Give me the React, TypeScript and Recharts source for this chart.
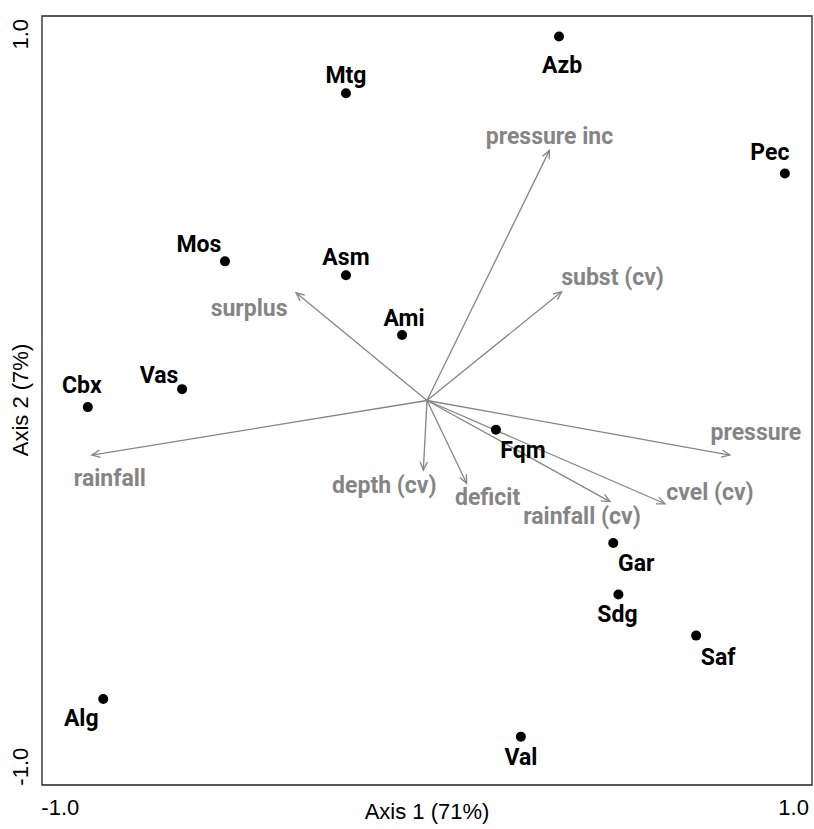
import { ScatterChart, Scatter, XAxis, YAxis, ReferenceLine, ReferenceArea } from 'recharts';

// site scores on the two ordination axes
const SITES = ['Azb', 'Mtg', 'Pec', 'Mos', 'Asm', 'Ami', 'Vas', 'Cbx', 'Fqm', 'Gar', 'Sdg', 'Saf', 'Alg', 'Val'];
const SITE_AXIS1 = [0.36, -0.221, 0.976, -0.551, -0.221, -0.068, -0.668, -0.925, 0.188, 0.508, 0.522, 0.734, -0.883, 0.256];
const SITE_AXIS2 = [0.994, 0.839, 0.62, 0.38, 0.342, 0.179, 0.031, -0.018, -0.08, -0.389, -0.53, -0.642, -0.815, -0.918];

// environmental vectors
const VARIABLES = ['pressure inc', 'subst (cv)', 'surplus', 'rainfall', 'depth (cv)', 'deficit', 'pressure', 'rainfall (cv)', 'cvel (cv)'];
const VAR_AXIS1 = [0.334, 0.367, -0.357, -0.914, -0.01, 0.108, 0.826, 0.499, 0.649];
const VAR_AXIS2 = [0.683, 0.297, 0.294, -0.149, -0.19, -0.226, -0.149, -0.276, -0.282];

const AXIS_TICKS = [-1, 1];
const DOMAIN: [number, number] = [-1.05, 1.05];

// label placement (px, relative to the mark, text baseline)
const SITE_LABEL_OFFSET: Record<string, [number, number]> = {
  Azb: [3, 36], Mtg: [0, -10], Pec: [-15, -13], Mos: [-26, -9], Asm: [0, -10], Ami: [2, -9], Vas: [-23, -6],
  Cbx: [-6, -14], Fqm: [27, 28], Gar: [23, 28], Sdg: [-1, 27], Saf: [22, 29], Alg: [-22, 27], Val: [0, 28],
};
const VAR_LABEL_OFFSET: Record<string, [number, number]> = {
  'pressure inc': [0, -6], 'subst (cv)': [51, -7], surplus: [-47, 23], rainfall: [18, 31], 'depth (cv)': [-39, 23],
  deficit: [21, 22], pressure: [26, -15], 'rainfall (cv)': [-28, 22], 'cvel (cv)': [45, -4],
};

const sites = SITES.map((name, i) => ({ name, x: SITE_AXIS1[i], y: SITE_AXIS2[i] }));
const vars = VARIABLES.map((name, i) => ({ name, x: VAR_AXIS1[i], y: VAR_AXIS2[i] }));

const GREY = '#858585';
const LABEL_FONT = 'Roboto, "Liberation Sans", sans-serif';
const AXIS_FONT = '"Liberation Sans", Arial, sans-serif';

const Arrow = (p: any) => {
  const { x1, y1, x2, y2 } = p;
  const a = Math.atan2(y2 - y1, x2 - x1);
  const len = 9;
  const w = 0.42;
  const h1 = `${x2 - len * Math.cos(a - w)},${y2 - len * Math.sin(a - w)}`;
  const h2 = `${x2 - len * Math.cos(a + w)},${y2 - len * Math.sin(a + w)}`;
  return (
    <g>
      <line x1={x1} y1={y1} x2={x2} y2={y2} stroke={GREY} strokeWidth={1.3} />
      <polyline points={`${h1} ${x2},${y2} ${h2}`} fill="none" stroke={GREY} strokeWidth={1.3} />
    </g>
  );
};

const SiteMark = (p: any) => {
  const { cx, cy, payload } = p;
  const [dx, dy] = SITE_LABEL_OFFSET[payload.name];
  return (
    <g>
      <circle cx={cx} cy={cy} r={5} fill="#000" />
      <text x={cx + dx} y={cy + dy} textAnchor="middle" fontFamily={LABEL_FONT} fontWeight="bold" fontSize={23} fill="#000">
        {payload.name}
      </text>
    </g>
  );
};

const VarLabel = (p: any) => {
  const { cx, cy, payload } = p;
  const [dx, dy] = VAR_LABEL_OFFSET[payload.name];
  return (
    <text x={cx + dx} y={cy + dy} textAnchor="middle" fontFamily={LABEL_FONT} fontWeight="bold" fontSize={23} fill={GREY}>
      {payload.name}
    </text>
  );
};

const XTick = (p: any) => (
  <text x={p.x} y={815} textAnchor="middle" fontFamily={AXIS_FONT} fontSize={22} fill="#000">
    {p.payload.value.toFixed(1)}
  </text>
);

const YTick = (p: any) => (
  <text x={28} y={p.y} transform={`rotate(-90 28 ${p.y})`} textAnchor="middle" fontFamily={AXIS_FONT} fontSize={22} fill="#000">
    {p.payload.value.toFixed(1)}
  </text>
);

export default function App() {
  return (
    <div style={{ position: 'fixed', left: 0, top: 0, background: '#fff' }}>
      <ScatterChart width={814} height={829} margin={{ top: 16, right: 2, left: 0, bottom: 0 }}>
        <XAxis
          type="number"
          dataKey="x"
          domain={DOMAIN}
          ticks={AXIS_TICKS}
          height={44}
          axisLine={false}
          tickLine={false}
          tick={XTick}
          allowDataOverflow
          label={() => (
            <text x={427} y={819} textAnchor="middle" fontFamily={AXIS_FONT} fontSize={22} fill="#000">
              Axis 1 (71%)
            </text>
          )}
        />
        <YAxis
          type="number"
          dataKey="y"
          domain={DOMAIN}
          ticks={AXIS_TICKS}
          width={42}
          axisLine={false}
          tickLine={false}
          tick={YTick}
          allowDataOverflow
          label={() => (
            <text x={28} y={400} transform="rotate(-90 28 400)" textAnchor="middle" fontFamily={AXIS_FONT} fontSize={22} fill="#000">
              Axis 2 (7%)
            </text>
          )}
        />
        <ReferenceArea x1={DOMAIN[0]} x2={DOMAIN[1]} y1={DOMAIN[0]} y2={DOMAIN[1]} fill="none" fillOpacity={0} stroke="#222" strokeWidth={1.3} ifOverflow="visible" />
        {vars.map((v) => (
          <ReferenceLine
            key={v.name}
            segment={[{ x: 0, y: 0 }, { x: v.x, y: v.y }]}
            ifOverflow="visible"
            shape={Arrow}
          />
        ))}
        <Scatter data={vars} shape={VarLabel} isAnimationActive={false} />
        <Scatter data={sites} shape={SiteMark} isAnimationActive={false} />
      </ScatterChart>
    </div>
  );
}
